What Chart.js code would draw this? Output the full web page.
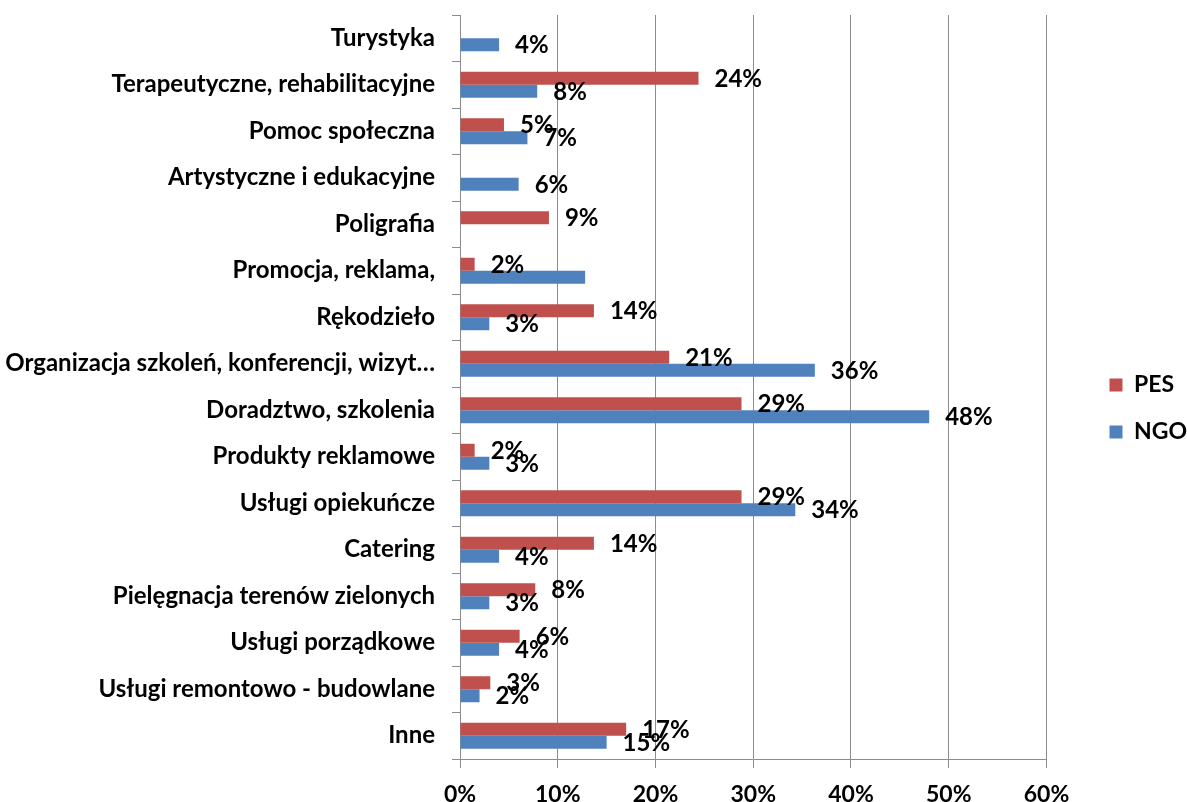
<!DOCTYPE html>
<html>
<head>
<meta charset="utf-8">
<script src="https://cdn.jsdelivr.net/npm/chart.js@4"></script>
<style>
  html, body { margin: 0; padding: 0; background: #fff; }
  #wrap { width: 1187px; height: 802px; position: relative; }
</style>
</head>
<body>
<div id="wrap"><canvas id="barChart"></canvas></div>
<script>
const FONT = 'Lato, "Noto Sans", sans-serif';

const categories = [
  'Turystyka',
  'Terapeutyczne, rehabilitacyjne',
  'Pomoc społeczna',
  'Artystyczne i edukacyjne',
  'Poligrafia',
  'Promocja, reklama,',
  'Rękodzieło',
  'Organizacja szkoleń, konferencji, wizyt…',
  'Doradztwo, szkolenia',
  'Produkty reklamowe',
  'Usługi opiekuńcze',
  'Catering',
  'Pielęgnacja terenów zielonych',
  'Usługi porządkowe',
  'Usługi remontowo - budowlane',
  'Inne'
];

const pesValues = [null, 24.4, 4.5, null, 9.1, 1.5, 13.7, 21.4, 28.8, 1.5, 28.8, 13.7, 7.7, 6.1, 3.1, 17.0];
const ngoValues = [4.0, 7.9, 6.9, 6.0, null, 12.8, 3.0, 36.3, 48.0, 3.0, 34.3, 4.0, 3.0, 4.0, 2.0, 15.0];

const pesLabels = ['', '24%', '5%', '', '9%', '2%', '14%', '21%', '29%', '2%', '29%', '14%', '8%', '6%', '3%', '17%'];
const ngoLabels = ['4%', '8%', '7%', '6%', '', '', '3%', '36%', '48%', '3%', '34%', '4%', '3%', '4%', '2%', '15%'];

const xTicks = [0, 10, 20, 30, 40, 50, 60];

// value labels drawn just past the end of each bar
const valueLabels = {
  id: 'valueLabels',
  afterDatasetsDraw(chart) {
    const ctx = chart.ctx;
    const sets = [pesLabels, ngoLabels];
    ctx.save();
    ctx.font = 'bold 24px ' + FONT;
    ctx.fillStyle = '#000';
    ctx.textAlign = 'left';
    ctx.textBaseline = 'middle';
    chart.data.datasets.forEach((ds, di) => {
      chart.getDatasetMeta(di).data.forEach((el, i) => {
        const txt = sets[di][i];
        if (!txt || ds.data[i] == null) return;
        ctx.fillText(txt, el.x + 16, el.y + 1);
      });
    });
    ctx.restore();
  }
};

const ctx = document.getElementById('barChart').getContext('2d');
new Chart(ctx, {
  type: 'bar',
  data: {
    labels: categories,
    datasets: [
      {
        label: 'PES',
        data: pesValues,
        backgroundColor: '#C0504D',
        borderWidth: 0,
        categoryPercentage: 0.56,
        barPercentage: 1.0,
      },
      {
        label: 'NGO',
        data: ngoValues,
        backgroundColor: '#4F81BD',
        borderWidth: 0,
        categoryPercentage: 0.56,
        barPercentage: 1.0,
      }
    ]
  },
  options: {
    indexAxis: 'y',
    responsive: true,
    maintainAspectRatio: false,
    animation: false,
    layout: { padding: { top: 15, right: -10, bottom: 0, left: 0 } },
    plugins: {
      tooltip: { enabled: false },
      legend: {
        position: 'right',
        align: 'center',
        labels: {
          boxWidth: 13,
          boxHeight: 13,
          padding: 24,
          color: '#000',
          font: { family: FONT, size: 23, weight: 'bold' }
        }
      }
    },
    scales: {
      x: {
        min: 0,
        max: 60,
        afterBuildTicks: s => { s.ticks = xTicks.map(v => ({ value: v })); },
        afterFit: s => { s.height = 43; },
        grid: { color: '#8c8c8c', lineWidth: 1, tickLength: 9 },
        border: { color: '#8c8c8c' },
        ticks: {
          color: '#000',
          padding: 13,
          font: { family: FONT, size: 23, weight: 'bold' },
          callback: v => v + '%'
        }
      },
      y: {
        afterFit: s => { s.width = 460; s.paddingTop = 0; s.paddingBottom = 0; },
        grid: { drawOnChartArea: false, color: '#8c8c8c', tickLength: 8 },
        border: { color: '#8c8c8c' },
        ticks: {
          color: '#000',
          padding: 17,
          autoSkip: false,
          font: { family: FONT, size: 24, weight: 'bold' }
        }
      },
      gap: {
        type: 'linear',
        position: 'right',
        afterFit: s => { s.width = 39; s.paddingTop = 0; s.paddingBottom = 0; },
        grid: { display: false },
        border: { display: false },
        ticks: { display: false }
      }
    }
  },
  plugins: [valueLabels]
});
</script>
</body>
</html>
